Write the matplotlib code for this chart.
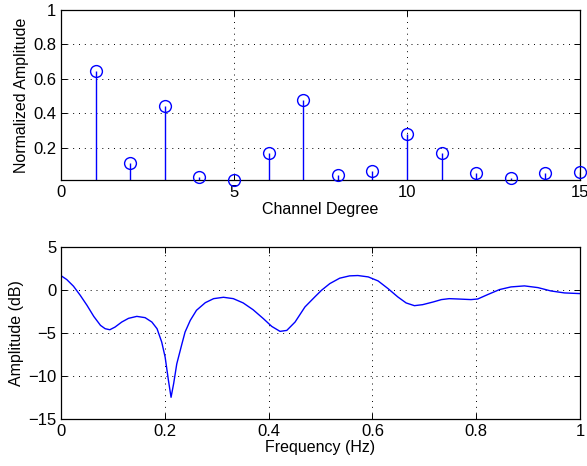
import matplotlib
matplotlib.use("Agg")
import matplotlib.pyplot as plt
import numpy as np

plt.rcParams['font.family'] = ['Liberation Sans', 'DejaVu Sans']
plt.rcParams['font.size'] = 11.5
plt.rcParams['xtick.labelsize'] = 12
plt.rcParams['ytick.labelsize'] = 12

# channel amplitudes (top panel)
channels = np.arange(1, 16)
amplitudes = [0.644, 0.113, 0.442, 0.030, 0.010, 0.167, 0.477, 0.041,
              0.064, 0.278, 0.169, 0.051, 0.026, 0.051, 0.057]

# response curve (bottom panel)
freq = [0.0, 0.011, 0.024, 0.037, 0.050, 0.063, 0.076, 0.085, 0.094, 0.104,
        0.117, 0.130, 0.146, 0.162, 0.175, 0.185, 0.194, 0.2006, 0.207, 0.212,
        0.217, 0.223, 0.233, 0.239, 0.249, 0.261, 0.278, 0.294, 0.313, 0.332,
        0.351, 0.370, 0.390, 0.406, 0.422, 0.435, 0.451, 0.470, 0.489, 0.502,
        0.518, 0.537, 0.556, 0.572, 0.592, 0.611, 0.630, 0.649, 0.665, 0.681,
        0.697, 0.717, 0.733, 0.748, 0.765, 0.790, 0.803, 0.822, 0.845, 0.867,
        0.893, 0.919, 0.944, 0.970, 1.0]
amp_db = [1.70, 1.25, 0.47, -0.59, -1.76, -3.05, -4.10, -4.49, -4.61, -4.30,
          -3.71, -3.28, -3.05, -3.20, -3.71, -4.49, -6.05, -7.81, -10.55, -12.5,
          -10.9, -8.6, -6.25, -4.88, -3.52, -2.34, -1.45, -0.98, -0.82, -0.98,
          -1.48, -2.27, -3.32, -4.22, -4.80, -4.69, -3.71, -1.95, -0.78, 0.0,
          0.78, 1.41, 1.68, 1.72, 1.56, 1.09, 0.2, -0.78, -1.48, -1.80,
          -1.68, -1.37, -1.09, -0.98, -1.02, -1.09, -1.02, -0.51, 0.08, 0.39,
          0.51, 0.31, -0.08, -0.31, -0.39]


def style(ax):
    ax.grid(True, color='k', linestyle=(0, (1, 5)), linewidth=0.7)
    ax.tick_params(direction='in', top=True, right=True, length=4, width=0.7)
    for s in ax.spines.values():
        s.set_linewidth(0.9)


fig = plt.figure(figsize=(5.87, 4.66), dpi=100)

ax1 = fig.add_axes([0.104, 0.613, 0.884, 0.366])
ax1.vlines(channels, 0, amplitudes, color='b', linewidth=1.0)
ax1.plot(channels, amplitudes, 'o', color='b', mfc='none', ms=8.5,
         mew=1.0, clip_on=False, zorder=5)
ax1.set_xlim(0, 15)
ax1.set_ylim(0.0105, 1)
ax1.set_xticks([0, 5, 10, 15])
ax1.set_yticks([0.2, 0.4, 0.6, 0.8, 1])
ax1.set_yticklabels(['0.2', '0.4', '0.6', '0.8', '1'])
ax1.set_xlabel('Channel Degree', labelpad=1)
ax1.set_ylabel('Normalized Amplitude', labelpad=3)
style(ax1)

ax2 = fig.add_axes([0.104, 0.1015, 0.884, 0.3675])
ax2.plot(freq, amp_db, color='b', linewidth=1.0)
ax2.set_xlim(0, 1)
ax2.set_ylim(-15, 5)
ax2.set_xticks([0, 0.2, 0.4, 0.6, 0.8, 1])
ax2.set_xticklabels(['0', '0.2', '0.4', '0.6', '0.8', '1'])
ax2.set_yticks([-15, -10, -5, 0, 5])
ax2.set_xlabel('Frequency (Hz)', labelpad=1)
ax2.set_ylabel('Amplitude (dB)', labelpad=3)
style(ax2)

fig.savefig('out.png', dpi=100)
